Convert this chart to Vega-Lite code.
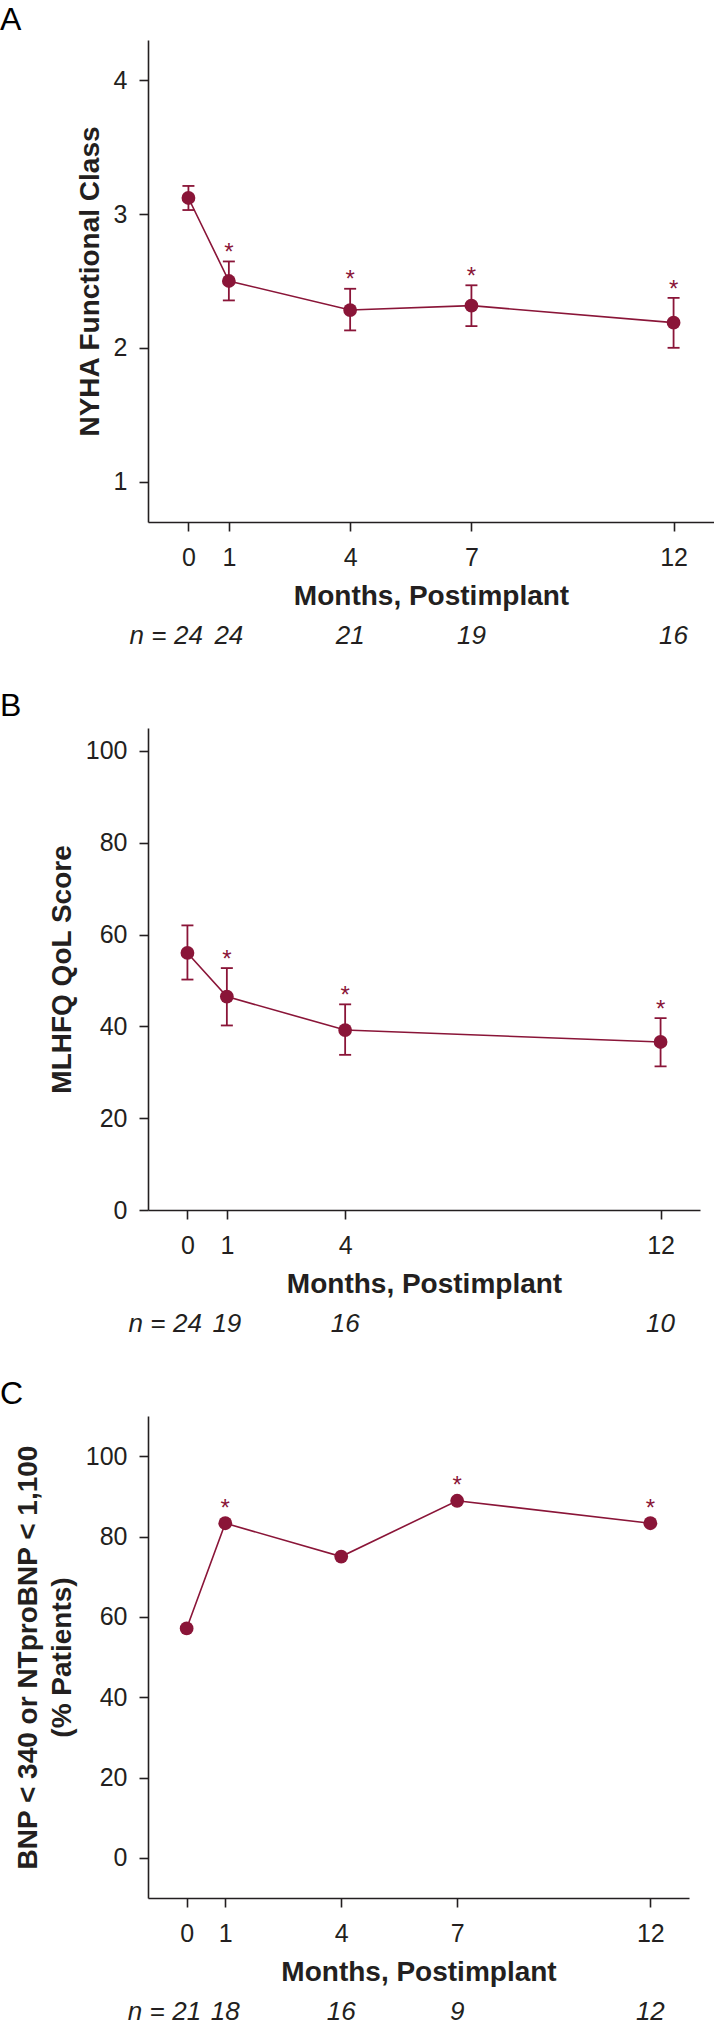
{
  "$schema": "https://vega.github.io/schema/vega-lite/v6.json",
  "padding": {"left": 0, "top": 4, "right": 0, "bottom": 0},
  "background": "white",
  "spacing": 206,
  "bounds": "flush",
  "config": {
    "font": "Liberation Sans",
    "view": {"stroke": null},
    "axis": {
      "grid": false,
      "domainColor": "#231f20",
      "domainWidth": 1.6,
      "tickColor": "#231f20",
      "tickWidth": 1.6,
      "tickSize": 9,
      "labelFont": "Liberation Sans",
      "labelFontSize": 25,
      "labelColor": "#231f20",
      "titleFont": "Liberation Sans",
      "titleFontSize": 28,
      "titleFontWeight": "bold",
      "titleColor": "#231f20",
      "format": "d"
    },
    "axisX": {"labelPadding": 14.5, "titlePadding": 12, "labelFlush": false, "labelOverlap": false},
    "axisY": {"labelPadding": 12, "titlePadding": 8.5, "titleLineHeight": 34},
    "title": {"anchor": "start", "frame": "group", "dx": -148, "fontSize": 32, "fontWeight": "normal", "color": "#000000", "font": "Liberation Sans", "offset": 3}
  },
  "vconcat": [
    {
      "width": 566,
      "height": 482,
      "title": {"text": "A"},
      "data": {"values": [
        {"month": 0, "mean": 3.12, "lo": 3.03, "hi": 3.21, "n": "24", "sig": false},
        {"month": 1, "mean": 2.50, "lo": 2.355, "hi": 2.646, "n": "24", "sig": true},
        {"month": 4, "mean": 2.283, "lo": 2.131, "hi": 2.442, "n": "21", "sig": true},
        {"month": 7, "mean": 2.316, "lo": 2.163, "hi": 2.468, "n": "19", "sig": true},
        {"month": 12, "mean": 2.189, "lo": 2.001, "hi": 2.374, "n": "16", "sig": true}
      ]},
      "encoding": {
        "x": {"field": "month", "type": "quantitative", "scale": {"domain": [-1, 13], "nice": false, "zero": false}, "axis": {"values": [0, 1, 4, 7, 12], "title": "Months, Postimplant"}}
      },
      "layer": [
        {"mark": {"type": "rule", "color": "#8a1538", "strokeWidth": 1.8},
         "encoding": {"y": {"field": "lo", "type": "quantitative", "scale": {"domain": [0.7, 4.3], "nice": false, "zero": false}, "axis": {"values": [1, 2, 3, 4], "title": "NYHA Functional Class"}}, "y2": {"field": "hi"}}},
        {"mark": {"type": "tick", "orient": "horizontal", "size": 12, "thickness": 1.8, "color": "#8a1538", "opacity": 1},
         "encoding": {"y": {"field": "lo", "type": "quantitative"}}},
        {"mark": {"type": "tick", "orient": "horizontal", "size": 12, "thickness": 1.8, "color": "#8a1538", "opacity": 1},
         "encoding": {"y": {"field": "hi", "type": "quantitative"}}},
        {"mark": {"type": "line", "color": "#8a1538", "strokeWidth": 1.6},
         "encoding": {"y": {"field": "mean", "type": "quantitative"}}},
        {"mark": {"type": "point", "filled": true, "size": 190, "opacity": 1, "color": "#8a1538"},
         "encoding": {"y": {"field": "mean", "type": "quantitative"}}},
        {"transform": [{"filter": "datum.sig"}],
         "mark": {"type": "text", "text": "*", "fontSize": 24, "color": "#8a1538", "baseline": "alphabetic", "dy": -1.3},
         "encoding": {"y": {"field": "hi", "type": "quantitative"}}},
        {"mark": {"type": "text", "fontSize": 26, "fontStyle": "italic", "color": "#231f20", "baseline": "alphabetic"},
         "encoding": {"y": {"datum": -0.208}, "text": {"field": "n"}}},
        {"transform": [{"filter": "datum.month === 0"}],
         "mark": {"type": "text", "text": "n =", "fontSize": 26, "fontStyle": "italic", "color": "#231f20", "align": "right", "baseline": "alphabetic", "dx": -22},
         "encoding": {"y": {"datum": -0.208}}}
      ]
    },
    {
      "width": 552,
      "height": 482,
      "title": {"text": "B", "offset": 5},
      "data": {"values": [
        {"month": 0, "mean": 56.0, "lo": 50.2, "hi": 62.0, "n": "24", "sig": false},
        {"month": 1, "mean": 46.5, "lo": 40.2, "hi": 52.7, "n": "19", "sig": true},
        {"month": 4, "mean": 39.2, "lo": 33.8, "hi": 44.8, "n": "16", "sig": true},
        {"month": 12, "mean": 36.6, "lo": 31.3, "hi": 41.8, "n": "10", "sig": true}
      ]},
      "encoding": {
        "x": {"field": "month", "type": "quantitative", "scale": {"domain": [-1, 13], "nice": false, "zero": false}, "axis": {"values": [0, 1, 4, 12], "title": "Months, Postimplant"}}
      },
      "layer": [
        {"mark": {"type": "rule", "color": "#8a1538", "strokeWidth": 1.8},
         "encoding": {"y": {"field": "lo", "type": "quantitative", "scale": {"domain": [0, 105], "nice": false, "zero": false}, "axis": {"values": [0, 20, 40, 60, 80, 100], "title": "MLHFQ QoL Score"}}, "y2": {"field": "hi"}}},
        {"mark": {"type": "tick", "orient": "horizontal", "size": 12, "thickness": 1.8, "color": "#8a1538", "opacity": 1},
         "encoding": {"y": {"field": "lo", "type": "quantitative"}}},
        {"mark": {"type": "tick", "orient": "horizontal", "size": 12, "thickness": 1.8, "color": "#8a1538", "opacity": 1},
         "encoding": {"y": {"field": "hi", "type": "quantitative"}}},
        {"mark": {"type": "line", "color": "#8a1538", "strokeWidth": 1.6},
         "encoding": {"y": {"field": "mean", "type": "quantitative"}}},
        {"mark": {"type": "point", "filled": true, "size": 190, "opacity": 1, "color": "#8a1538"},
         "encoding": {"y": {"field": "mean", "type": "quantitative"}}},
        {"transform": [{"filter": "datum.sig"}],
         "mark": {"type": "text", "text": "*", "fontSize": 24, "color": "#8a1538", "baseline": "alphabetic", "dy": -1.3},
         "encoding": {"y": {"field": "hi", "type": "quantitative"}}},
        {"mark": {"type": "text", "fontSize": 26, "fontStyle": "italic", "color": "#231f20", "baseline": "alphabetic"},
         "encoding": {"y": {"datum": -26.5}, "text": {"field": "n"}}},
        {"transform": [{"filter": "datum.month === 0"}],
         "mark": {"type": "text", "text": "n =", "fontSize": 26, "fontStyle": "italic", "color": "#231f20", "align": "right", "baseline": "alphabetic", "dx": -22},
         "encoding": {"y": {"datum": -26.5}}}
      ]
    },
    {
      "width": 541,
      "height": 482,
      "title": {"text": "C", "offset": 5},
      "data": {"values": [
        {"month": 0, "pct": 57.1, "n": "21", "sig": false},
        {"month": 1, "pct": 83.3, "n": "18", "sig": true},
        {"month": 4, "pct": 75.0, "n": "16", "sig": false},
        {"month": 7, "pct": 88.9, "n": "9", "sig": true},
        {"month": 12, "pct": 83.3, "n": "12", "sig": true}
      ]},
      "encoding": {
        "x": {"field": "month", "type": "quantitative", "scale": {"domain": [-1, 13], "nice": false, "zero": false}, "axis": {"values": [0, 1, 4, 7, 12], "title": "Months, Postimplant"}}
      },
      "layer": [
        {"mark": {"type": "line", "color": "#8a1538", "strokeWidth": 1.6},
         "encoding": {"y": {"field": "pct", "type": "quantitative", "scale": {"domain": [-10, 110], "nice": false, "zero": false}, "axis": {"values": [0, 20, 40, 60, 80, 100], "title": ["BNP < 340 or NTproBNP < 1,100", "(% Patients)"]}}}},
        {"mark": {"type": "point", "filled": true, "size": 190, "opacity": 1, "color": "#8a1538"},
         "encoding": {"y": {"field": "pct", "type": "quantitative"}}},
        {"transform": [{"filter": "datum.sig"}],
         "mark": {"type": "text", "text": "*", "fontSize": 24, "color": "#8a1538", "baseline": "alphabetic", "dy": -7.7},
         "encoding": {"y": {"field": "pct", "type": "quantitative"}}},
        {"mark": {"type": "text", "fontSize": 26, "fontStyle": "italic", "color": "#231f20", "baseline": "alphabetic"},
         "encoding": {"y": {"datum": -40.3}, "text": {"field": "n"}}},
        {"transform": [{"filter": "datum.month === 0"}],
         "mark": {"type": "text", "text": "n =", "fontSize": 26, "fontStyle": "italic", "color": "#231f20", "align": "right", "baseline": "alphabetic", "dx": -22},
         "encoding": {"y": {"datum": -40.3}}}
      ]
    }
  ]
}
